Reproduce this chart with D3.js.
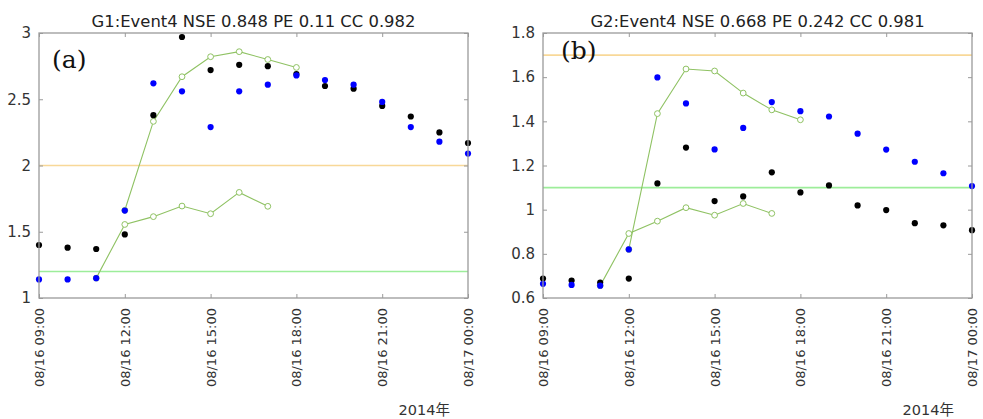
<!DOCTYPE html>
<html>
<head>
<meta charset="utf-8">
<script src="https://cdn.jsdelivr.net/npm/d3@7"></script>
<style>
  body { margin: 0; background: #fff; }
  svg { display: block; }
</style>
</head>
<body>
<script>
// hourly times shared by both panels
let times = ["2014-08-16 09:00","2014-08-16 10:00","2014-08-16 11:00","2014-08-16 12:00",
  "2014-08-16 13:00","2014-08-16 14:00","2014-08-16 15:00","2014-08-16 16:00",
  "2014-08-16 17:00","2014-08-16 18:00","2014-08-16 19:00","2014-08-16 20:00",
  "2014-08-16 21:00","2014-08-16 22:00","2014-08-16 23:00","2014-08-17 00:00"];

// panel (a) G1
let obsA  = [1.40,1.38,1.37,1.48,2.38,2.97,2.72,2.76,2.75,2.69,2.60,2.58,2.45,2.37,2.25,2.17];
let simA  = [1.14,1.14,1.15,1.66,2.62,2.56,2.29,2.56,2.61,2.68,2.645,2.61,2.48,2.29,2.18,2.09];
let fcA1Start = "2014-08-16 11:00";
let fcA1 = [1.15,1.555,1.614,1.694,1.636,1.797,1.692];
let fcA2Start = "2014-08-16 12:00";
let fcA2 = [1.662,2.333,2.67,2.821,2.859,2.80,2.74];
let levelsA = [2.0, 1.2];
let yTicksA = [1,1.5,2,2.5,3];

// panel (b) G2
let obsB  = [0.688,0.679,0.670,0.688,1.119,1.281,1.039,1.060,1.169,1.078,1.110,1.019,0.998,0.939,0.929,0.907];
let simB  = [0.664,0.659,0.656,0.820,1.599,1.481,1.273,1.370,1.487,1.446,1.422,1.344,1.272,1.217,1.165,1.107];
let fcB1Start = "2014-08-16 11:00";
let fcB1 = [0.656,0.892,0.948,1.009,0.975,1.028,0.983];
let fcB2Start = "2014-08-16 12:00";
let fcB2 = [0.82,1.435,1.637,1.628,1.528,1.452,1.407];
let levelsB = [1.7, 1.1];
let yTicksB = [0.6,0.8,1,1.2,1.4,1.6,1.8];

let parse = d3.utcParse("%Y-%m-%d %H:%M");
let fmt = d3.utcFormat("%m/%d %H:%M");
let levelColors = ['#f8d898', '#9ded9a'];

let svg = d3.select('body').append('svg')
  .attr('width', 983).attr('height', 419);

function forecast(start, vals) {
  let t0 = parse(start);
  return vals.map((v, i) => ({t: d3.utcHour.offset(t0, i), v: v}));
}

function panel(opt) {
  let left = opt.left, right = opt.left + 429, top = 33, bottom = 298;
  let x = d3.scaleUtc()
    .domain([parse(times[0]), parse(times[times.length - 1])])
    .range([left, right]);
  let y = d3.scaleLinear().domain(opt.yDomain).range([bottom, top]);
  let g = svg.append('g');
  let xt = d3.utcHour.every(3).range(x.domain()[0], d3.utcHour.offset(x.domain()[1], 1));

  // threshold lines
  g.selectAll('line.level').data(opt.levels).enter().append('line')
    .attr('x1', left).attr('x2', right)
    .attr('y1', d => y(d)).attr('y2', d => y(d))
    .attr('stroke', (d, i) => levelColors[i]).attr('stroke-width', 1.6);

  // forecast lines
  let line = d3.line().x(d => x(d.t)).y(d => y(d.v));
  opt.fc.forEach(f => {
    g.append('path').datum(f).attr('d', line)
      .attr('fill', 'none').attr('stroke', '#8fc263').attr('stroke-width', 1.1);
    g.selectAll(null).data(f).enter().append('circle')
      .attr('cx', d => x(d.t)).attr('cy', d => y(d.v)).attr('r', 2.9)
      .attr('fill', '#fff').attr('stroke', '#8fc263').attr('stroke-width', 1);
  });

  g.selectAll('circle.obs').data(opt.obs).enter().append('circle')
    .attr('cx', (d, i) => x(parse(times[i]))).attr('cy', d => y(d)).attr('r', 3.1)
    .attr('fill', '#000');
  g.selectAll('circle.sim').data(opt.sim).enter().append('circle')
    .attr('cx', (d, i) => x(parse(times[i]))).attr('cy', d => y(d)).attr('r', 3.1)
    .attr('fill', '#0000ff');

  // box + ticks
  let axisCol = '#9a9a9a';
  g.append('rect').attr('x', left).attr('y', top)
    .attr('width', right - left).attr('height', bottom - top)
    .attr('fill', 'none').attr('stroke', axisCol).attr('stroke-width', 1.3);

  let ax = g.append('g').attr('transform', `translate(0,${bottom})`)
    .call(d3.axisBottom(x).tickValues(xt).tickFormat(fmt).tickSizeInner(-4).tickSizeOuter(0).tickPadding(8));
  ax.select('.domain').remove();
  ax.selectAll('line').attr('stroke', axisCol);
  ax.selectAll('text')
    .attr('transform', 'rotate(-90)')
    .attr('x', -10).attr('y', 0).attr('dy', '0.35em')
    .attr('text-anchor', 'end')
    .attr('fill', '#333').style('font', '13px "DejaVu Sans"');

  let axT = g.append('g').attr('transform', `translate(0,${top})`)
    .call(d3.axisTop(x).tickValues(xt).tickFormat('').tickSizeInner(-4).tickSizeOuter(0));
  axT.select('.domain').remove();
  axT.selectAll('line').attr('stroke', axisCol);

  let ay = g.append('g').attr('transform', `translate(${left},0)`)
    .call(d3.axisLeft(y).tickValues(opt.yTicks).tickFormat(d3.format('')).tickSizeInner(-4).tickSizeOuter(0).tickPadding(8));
  ay.select('.domain').remove();
  ay.selectAll('line').attr('stroke', axisCol);
  ay.selectAll('text').attr('fill', '#333').style('font', '15px "DejaVu Sans"');

  let ayR = g.append('g').attr('transform', `translate(${right},0)`)
    .call(d3.axisRight(y).tickValues(opt.yTicks).tickFormat('').tickSizeInner(-4).tickSizeOuter(0));
  ayR.select('.domain').remove();
  ayR.selectAll('line').attr('stroke', axisCol);

  g.append('text').attr('x', (left + right) / 2).attr('y', 27)
    .attr('text-anchor', 'middle').attr('fill', '#222')
    .style('font', '16.4px "DejaVu Sans"').text(opt.title);

  g.append('text').attr('x', opt.tagX).attr('y', opt.tagY)
    .attr('fill', '#111').style('font', '25px "DejaVu Serif"').text(opt.tag);

  g.append('text').attr('x', right - 18).attr('y', 415)
    .attr('text-anchor', 'end').attr('fill', '#333')
    .style('font', '14.5px "DejaVu Sans", "Noto Sans CJK JP"').text('2014年');
}

panel({left: 39, yDomain: [1, 3], yTicks: yTicksA, levels: levelsA,
  obs: obsA, sim: simA, fc: [forecast(fcA1Start, fcA1), forecast(fcA2Start, fcA2)],
  title: 'G1:Event4 NSE 0.848 PE 0.11 CC 0.982', tag: '(a)', tagX: 52, tagY: 68});
panel({left: 543, yDomain: [0.6, 1.8], yTicks: yTicksB, levels: levelsB,
  obs: obsB, sim: simB, fc: [forecast(fcB1Start, fcB1), forecast(fcB2Start, fcB2)],
  title: 'G2:Event4 NSE 0.668 PE 0.242 CC 0.981', tag: '(b)', tagX: 561, tagY: 59});
</script>
</body>
</html>
